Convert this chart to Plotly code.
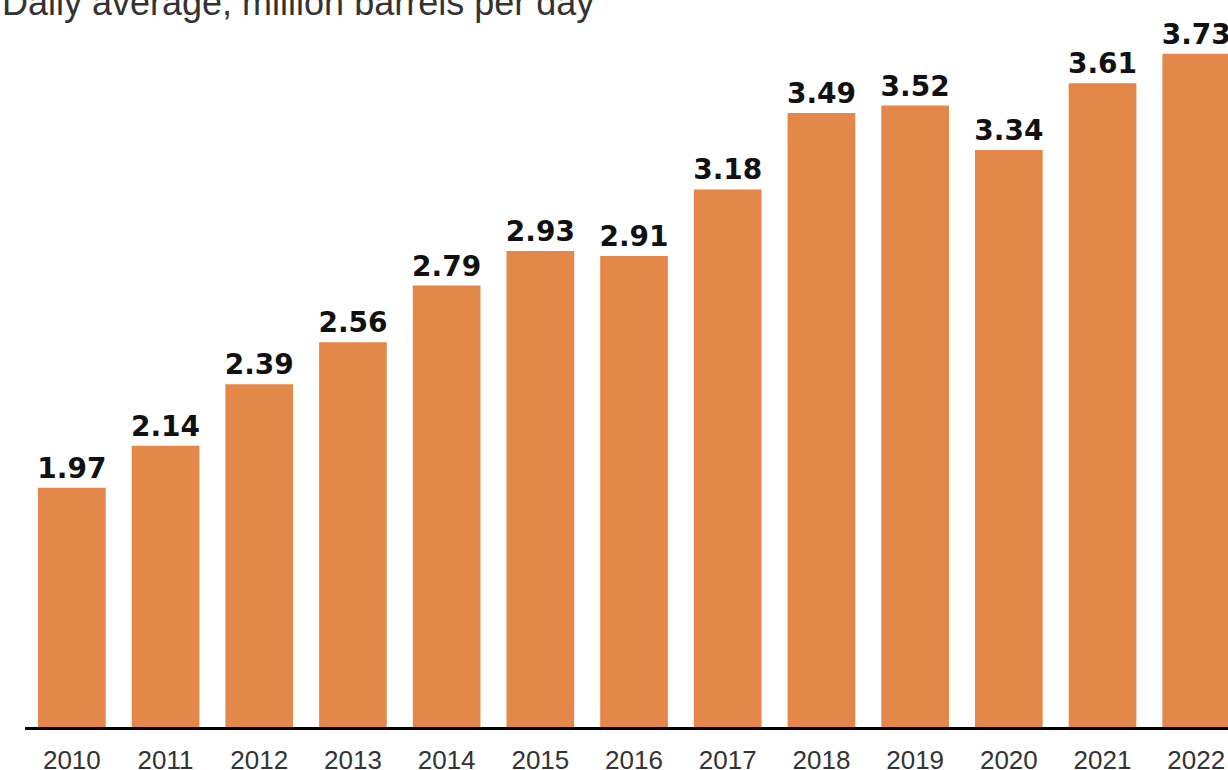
import plotly.graph_objects as go

years = ["2010", "2011", "2012", "2013", "2014", "2015", "2016",
         "2017", "2018", "2019", "2020", "2021", "2022"]
values = [1.97, 2.14, 2.39, 2.56, 2.79, 2.93, 2.91, 3.18, 3.49, 3.52, 3.34, 3.61, 3.73]
labels = [f"{v:.2f}" for v in values]
subtitle = "Daily average, million barrels per day"

fig = go.Figure(go.Bar(
    x=years, y=values, text=labels, textposition="outside",
    constraintext="none", cliponaxis=False,
    textfont=dict(family="DejaVu Sans", size=28, color="#111111", weight="bold"),
    marker=dict(color="#E4884A", line=dict(width=0)),
    hoverinfo="skip",
))

fig.update_layout(
    width=1228, height=770,
    margin=dict(l=25, r=0, t=0, b=43, autoexpand=False),
    paper_bgcolor="white", plot_bgcolor="white",
    bargap=0.2775,
    showlegend=False,
    xaxis=dict(
        type="category", range=[-0.5, 12.339], automargin=False,
        showline=True, linecolor="black", linewidth=3, layer="below traces",
        showgrid=False, ticks="outside", ticklen=8, tickcolor="rgba(0,0,0,0)",
        tickfont=dict(family="Liberation Sans", size=26, color="#333333"),
    ),
    yaxis=dict(range=[1, 3.948], visible=False, showgrid=False, zeroline=False),
    annotations=[dict(
        text=subtitle, xref="paper", yref="paper", x=-0.021, y=1 - 2 / 727,
        xanchor="left", yanchor="middle", showarrow=False,
        font=dict(family="Liberation Sans", size=36, color="#333333"),
    )],
)

fig.write_html("out.html")
